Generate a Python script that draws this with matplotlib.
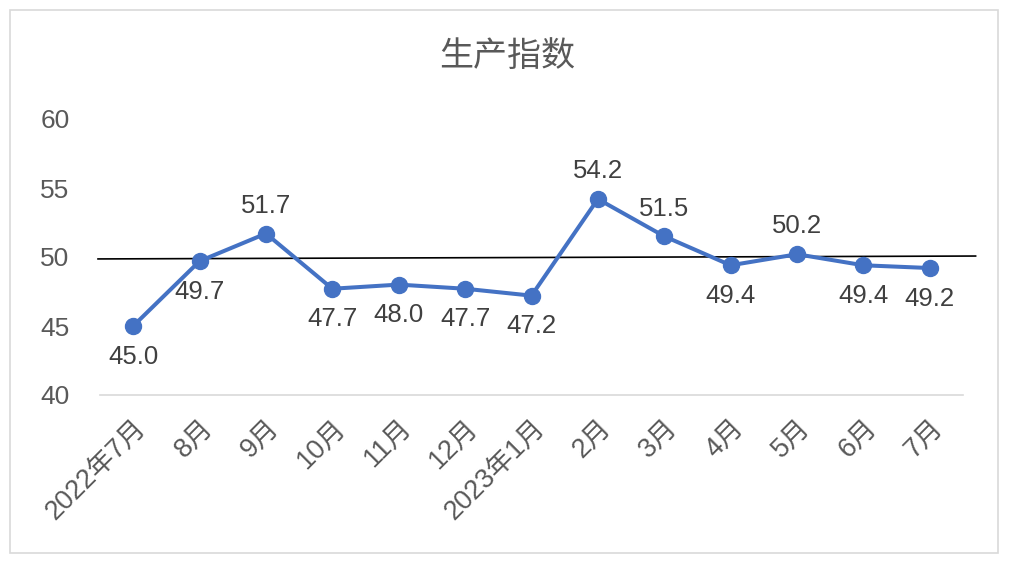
import matplotlib
matplotlib.use("Agg")
import matplotlib.pyplot as plt
from matplotlib.patches import Rectangle

plt.rcParams['font.family'] = ['Liberation Sans', 'Noto Sans CJK SC', 'DejaVu Sans']

title = "生产指数"
categories = ["2022年7月", "8月", "9月", "10月", "11月", "12月", "2023年1月",
              "2月", "3月", "4月", "5月", "6月", "7月"]
values = [45.0, 49.7, 51.7, 47.7, 48.0, 47.7, 47.2, 54.2, 51.5, 49.4, 50.2, 49.4, 49.2]
label_pos = ["below", "below", "above", "below", "below", "below", "below",
             "above", "above", "below", "above", "below", "below"]
ref_line_x = [-0.53, 12.69]
ref_line_y = [49.86, 50.07]
yticks = [40, 45, 50, 55, 60]

text_color = "#595959"
line_color = "#4472C4"

fig = plt.figure(figsize=(10.14, 5.70), dpi=100)
fig.patches.append(Rectangle((10/1014, 1-553/570), 988/1014, 543/570,
                             transform=fig.transFigure, fill=False,
                             edgecolor="#D9D9D9", linewidth=1.2))

ax = fig.add_axes([100/1014, 1-395/570, 863/1014, 276/570])
x = list(range(len(categories)))
ax.plot(x, values, color=line_color, linewidth=2.9, marker='o', markersize=11.5,
        zorder=3)
ax.plot(ref_line_x, ref_line_y, color="black", linewidth=1.2, clip_on=False, zorder=2)

for xi, v, p in zip(x, values, label_pos):
    off = 20 if p == "above" else -22
    ax.annotate(f"{v:.1f}", (xi, v), xytext=(0, off), textcoords="offset points",
                ha="center", va="center", fontsize=18.5, color="#404040")

ax.set_xlim(-0.5, len(categories) - 0.5)
ax.set_ylim(40, 60)
ax.set_yticks(yticks)
ax.set_yticklabels([str(t) for t in yticks], fontsize=19, color=text_color)
ax.set_xticks(x)
ax.set_xticklabels(categories, rotation=45, ha="right", va="top",
                   rotation_mode="anchor", fontsize=19.5, color=text_color)
ax.tick_params(axis='both', length=0)
ax.tick_params(axis='y', pad=22)
ax.tick_params(axis='x', pad=14)
for s in ["top", "right", "left"]:
    ax.spines[s].set_visible(False)
ax.spines["bottom"].set_color("#D9D9D9")
ax.spines["bottom"].set_linewidth(1.2)

fig.text(0.5, 1-57/570, title, ha="center", va="center", fontsize=24.5,
         color=text_color)

fig.savefig("out.png", dpi=100)
